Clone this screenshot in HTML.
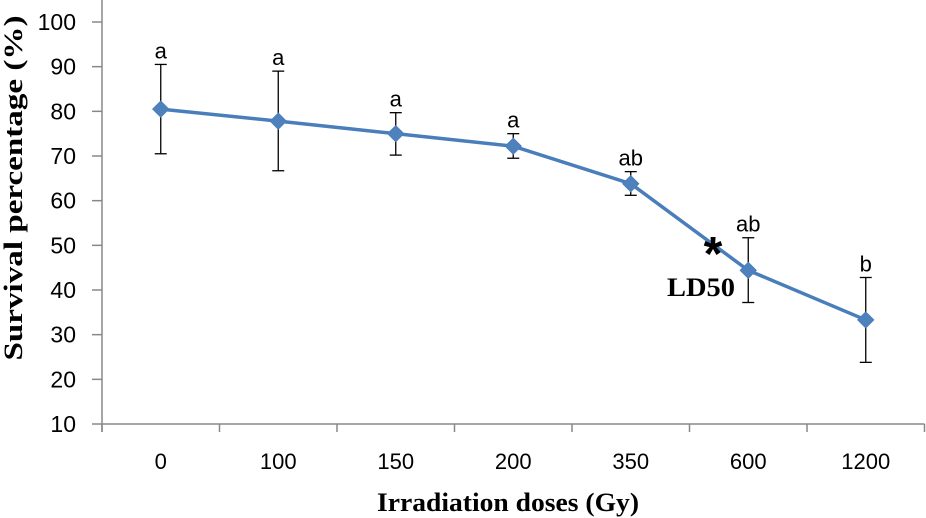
<!DOCTYPE html>
<html><head><meta charset="utf-8"><style>
body{margin:0;background:#fff}
svg{display:block}
text{font-family:"Liberation Sans",sans-serif}
</style></head><body>
<svg id="chart" width="926" height="518">
<g id="axes"></g><g id="series"></g>
<text x="22" y="188" transform="rotate(-90 22 188)" text-anchor="middle" font-weight="bold" font-size="26" textLength="345" lengthAdjust="spacingAndGlyphs" style="font-family:'Liberation Serif',serif">Survival percentage (%)</text>
<text x="508" y="511" text-anchor="middle" font-weight="bold" font-size="26" textLength="262" lengthAdjust="spacingAndGlyphs" style="font-family:'Liberation Serif',serif">Irradiation  doses (Gy)</text>
<text x="713" y="270" text-anchor="middle" font-weight="bold" font-size="48" style="font-family:'Liberation Sans',sans-serif">*</text>
<text x="701" y="296" text-anchor="middle" font-weight="bold" font-size="26" textLength="68" lengthAdjust="spacingAndGlyphs" style="font-family:'Liberation Serif',serif">LD50</text>
</svg>
<script>
const categories=["0","100","150","200","350","600","1200"];
const survival=[80.5,77.8,75,72.2,63.8,44.4,33.3];
const errUpper=[90.5,89,79.7,75,66.5,51.7,42.8];
const errLower=[70.5,66.7,70.2,69.5,61.2,37.2,23.8];
const letters=["a","a","a","a","ab","ab","b"];
const yTicks=[10,20,30,40,50,60,70,80,90,100];
const NS="http://www.w3.org/2000/svg";
const x0=102,cw=117.5,yBase=424,yTop=22;
const xs=i=>x0+(i+0.5)*cw;
const ys=v=>yBase-(v-10)/90*(yBase-yTop);
const axes=document.getElementById('axes'),ser=document.getElementById('series');
function mk(tag,attrs,parent){const e=document.createElementNS(NS,tag);for(const k in attrs)e.setAttribute(k,attrs[k]);parent.appendChild(e);return e;}
let l=mk('line',{x1:x0,y1:yTop-22,x2:x0,y2:yBase+8,stroke:'#888','stroke-width':1.5},axes);


l=mk('line',{x1:x0,y1:yBase,x2:x0+cw*categories.length,y2:yBase,stroke:'#888','stroke-width':1.5},axes);


yTicks.forEach(v=>{
 mk('line',{x1:x0-10,y1:ys(v),x2:x0,y2:ys(v),stroke:'#888','stroke-width':1.5},axes);
 const t=mk('text',{x:x0-26,y:ys(v)+8,'text-anchor':'end','font-size':23,fill:'#000'},axes);
 t.textContent=v;
 
 
});
for(let i=0;i<=categories.length;i++)mk('line',{x1:x0+i*cw,y1:yBase,x2:x0+i*cw,y2:yBase+8,stroke:'#888','stroke-width':1.5},axes);
categories.forEach((c,i)=>{
 const t=mk('text',{x:xs(i),y:yBase+45,'text-anchor':'middle','font-size':22},axes);
 t.textContent=c;
 
 
});
categories.forEach((c,i)=>{
 const g=mk('g',{},ser);
 
 
 const x=xs(i);
 mk('line',{x1:x,y1:ys(errUpper[i]),x2:x,y2:ys(errLower[i]),stroke:'#000','stroke-width':1.3},g);
 mk('line',{x1:x-6,y1:ys(errUpper[i]),x2:x+6,y2:ys(errUpper[i]),stroke:'#000','stroke-width':1.3},g);
 mk('line',{x1:x-6,y1:ys(errLower[i]),x2:x+6,y2:ys(errLower[i]),stroke:'#000','stroke-width':1.3},g);
 const t=mk('text',{x:x,y:ys(errUpper[i])-6,'text-anchor':'middle','font-size':22},g);
 t.textContent=letters[i];
 
 
});
const pl=mk('polyline',{points:survival.map((v,i)=>xs(i)+','+ys(v)).join(' '),fill:'none',stroke:'#4a7ebb','stroke-width':3.5},ser);


survival.forEach((v,i)=>{
 const x=xs(i),y=ys(v),r=8;
 const p=mk('polygon',{points:`${x},${y-r} ${x+r},${y} ${x},${y+r} ${x-r},${y}`,fill:'#4f81bd',stroke:'#4a7ebb','stroke-width':1},ser);
 
 
});
</script>
</body></html>
